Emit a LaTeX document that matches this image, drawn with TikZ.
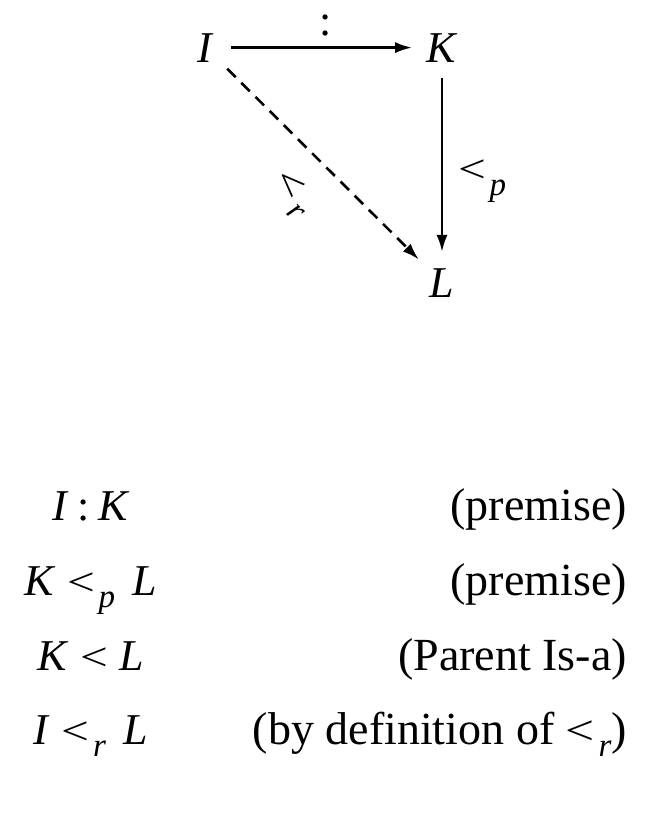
\documentclass[tikz,border=0pt]{standalone}
\usepackage{fontspec}
\setmainfont{Liberation Serif}
\usetikzlibrary{arrows.meta}
\newcommand\mvar[1]{\textit{#1}}
\newcommand\ltsym{\scalebox{1.12}[0.9]{<}}
\newcommand\lsub[1]{\hspace{0.08em}\raisebox{-0.28em}{\fontsize{33}{33}\selectfont\textit{#1}}}
\newcommand\rsp{\hspace{0.26em}}
\newcommand\rspp{\hspace{0.4em}}
\begin{document}
\begin{tikzpicture}[x=1pt,y=-1pt,
  every node/.style={font=\fontsize{44}{52}\selectfont},
  obj/.style={inner sep=0pt, anchor=base},
  arr/.style={line width=2.6pt, -{Latex[length=17pt,width=11pt]}},
  dash arr/.style={arr, dash pattern=on 12pt off 8pt},
  lbl/.style={inner sep=0pt},
  stmt/.style={inner sep=0pt, anchor=base},
  just/.style={inner sep=0pt, anchor=base east, font=\fontsize{46}{54}\selectfont}]
\useasboundingbox (0,0) rectangle (651,825);
% diagram
\node[obj] (I) at (206,62) {\mvar{I}};
\node[obj] (K) at (442,62) {\mvar{K}};
\node[obj] (L) at (442,297) {\mvar{L}};
\draw[arr, shorten <=17pt, shorten >=14pt] (I) -- node[lbl, above=10pt, xshift=5pt] {:} (K);
\draw[arr, shorten <=16pt, shorten >=16pt] (K) -- node[lbl, anchor=west, xshift=15pt, yshift=-16pt] {\ltsym\lsub{p}} (L);
\draw[dash arr, shorten <=18pt, shorten >=15pt] (I) -- node[lbl, sloped, yshift=-44pt] {\ltsym\lsub{r}} (L);
% derivation
\node[stmt] (s1) at (91,520) {\mvar{I}\hspace{0.2em}:\hspace{0.2em}\mvar{K}};
\node[stmt] (s2) at (91,595) {\mvar{K}\rsp\ltsym\lsub{p}\rspp\mvar{L}};
\node[stmt] (s3) at (91,670) {\mvar{K}\rsp\ltsym\rsp\mvar{L}};
\node[stmt] (s4) at (91,744) {\mvar{I}\rsp\ltsym\lsub{r}\rspp\mvar{L}};
\node[just] (j1) at (627,520) {(premise)};
\node[just] (j2) at (627,595) {(premise)};
\node[just] (j3) at (627,670) {(Parent Is-a)};
\node[just] (j4) at (627,744) {(by definition of \ltsym\lsub{r})};
\end{tikzpicture}
\end{document}
